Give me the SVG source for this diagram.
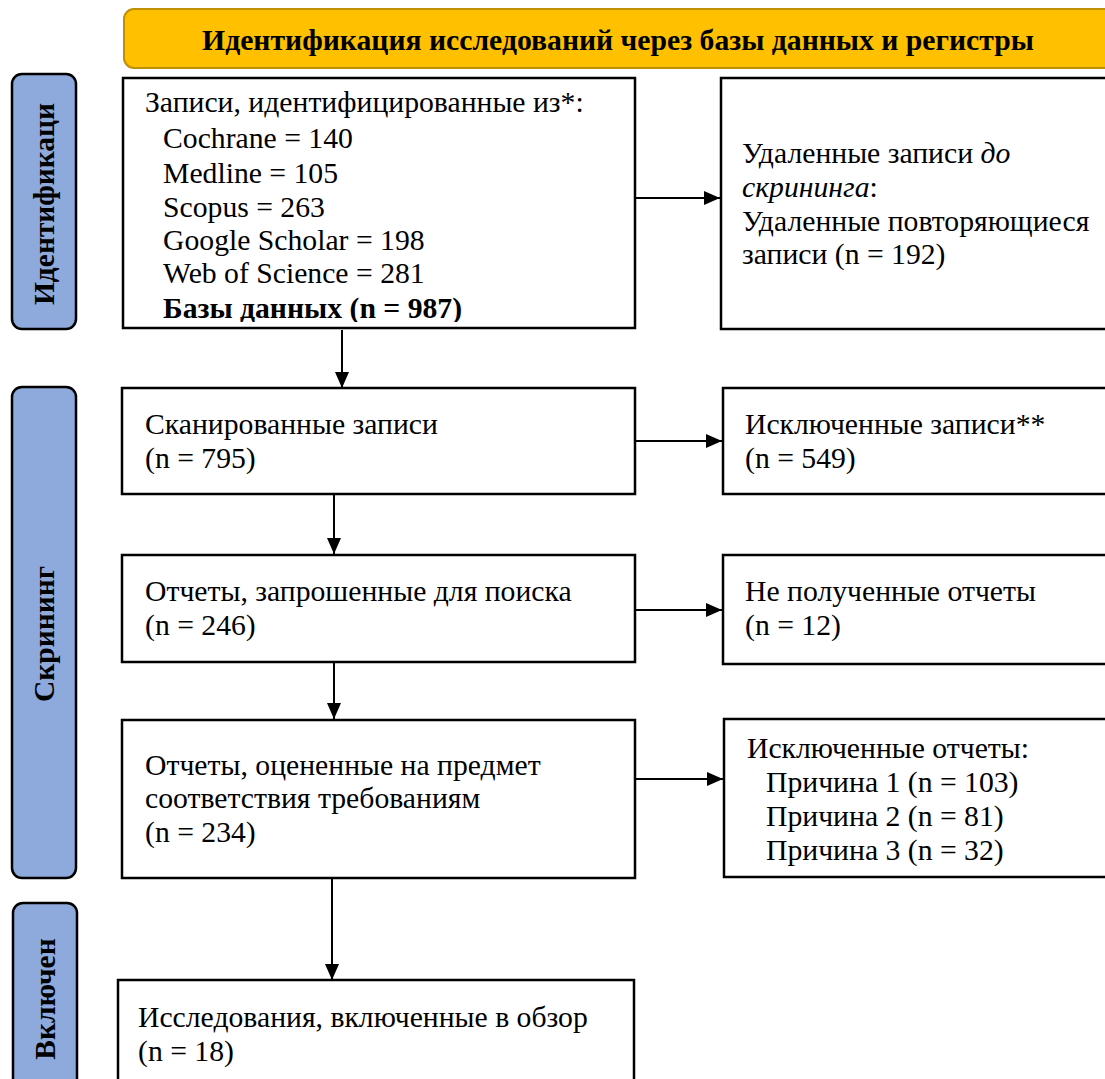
<svg xmlns="http://www.w3.org/2000/svg" width="1105" height="1079" viewBox="0 0 1105 1079">
<defs>
<style>
.box{fill:#fff;stroke:#000;stroke-width:2.5}
.side{fill:#8EA9DB;stroke:#000;stroke-width:2.5}
.t{font-family:"Liberation Serif","Times New Roman",serif;font-size:29.7px;fill:#000}
.b{font-weight:bold}
.sl{font-family:"Liberation Serif","Times New Roman",serif;font-size:29.5px;font-weight:bold;fill:#000}
.c{stroke:#000;stroke-width:2;fill:none}
</style>
<marker id="ah" viewBox="0 0 16 14" refX="16" refY="7" markerWidth="16" markerHeight="14" markerUnits="userSpaceOnUse" orient="auto">
<path d="M0,0 L16,7 L0,14 z" fill="#000"/>
</marker>
<clipPath id="clip1"><rect x="123" y="78" width="512" height="244"/></clipPath>
</defs>
<rect width="1105" height="1079" fill="#fff"/>

<g id="header">
<rect x="124" y="9" width="1000" height="59" rx="10" fill="#FFC000" stroke="#BF9000" stroke-width="2"/>
<text class="t b" x="618" y="50" text-anchor="middle" font-size="26.3">Идентификация исследований через базы данных и регистры</text>
</g>

<g id="side-ident">
<rect class="side" x="12" y="74" width="64" height="255" rx="10"/>
<text class="sl" transform="translate(54,204) rotate(-90)" text-anchor="middle">Идентификаци</text>
</g>
<g id="side-screen">
<rect class="side" x="12" y="387" width="64" height="491" rx="10"/>
<text class="sl" transform="translate(54,634) rotate(-90)" text-anchor="middle">Скрининг</text>
</g>
<g id="side-incl">
<rect class="side" x="13" y="903" width="64" height="190" rx="10"/>
<text class="sl" transform="translate(55,999) rotate(-90)" text-anchor="middle">Включен</text>
</g>

<g id="connectors">
<line class="c" x1="342" y1="330" x2="342" y2="388" marker-end="url(#ah)"/>
<line class="c" x1="334" y1="494" x2="334" y2="554" marker-end="url(#ah)"/>
<line class="c" x1="334" y1="662" x2="334" y2="719" marker-end="url(#ah)"/>
<line class="c" x1="332" y1="878" x2="332" y2="980" marker-end="url(#ah)"/>
<line class="c" x1="635" y1="198" x2="720" y2="198" marker-end="url(#ah)"/>
<line class="c" x1="635" y1="441" x2="722" y2="441" marker-end="url(#ah)"/>
<line class="c" x1="635" y1="610" x2="722" y2="610" marker-end="url(#ah)"/>
<line class="c" x1="635" y1="779" x2="723" y2="779" marker-end="url(#ah)"/>
</g>

<g id="n1">
<rect class="box" x="123" y="78" width="512" height="250"/>
<text class="t" x="145" y="112">Записи, идентифицированные из*:</text>
<text class="t" x="163" y="148">Cochrane = 140</text>
<text class="t" x="163" y="183">Medline = 105</text>
<text class="t" x="163" y="217">Scopus = 263</text>
<text class="t" x="163" y="250">Google Scholar = 198</text>
<text class="t" x="163" y="283">Web of Science = 281</text>
<text class="t b" x="163" y="318" clip-path="url(#clip1)">Базы данных (n = 987)</text>
</g>
<g id="n2">
<rect class="box" x="721" y="78" width="400" height="251"/>
<text class="t" x="742" y="163">Удаленные записи <tspan font-style="italic">до</tspan></text>
<text class="t" x="742" y="197"><tspan font-style="italic">скрининга</tspan>:</text>
<text class="t" x="742" y="231">Удаленные повторяющиеся</text>
<text class="t" x="742" y="264">записи (n = 192)</text>
</g>
<g id="n3">
<rect class="box" x="122" y="388" width="513" height="106"/>
<text class="t" x="145" y="434">Сканированные записи</text>
<text class="t" x="145" y="468">(n = 795)</text>
</g>
<g id="n4">
<rect class="box" x="723" y="388" width="400" height="106"/>
<text class="t" x="745" y="434">Исключенные записи**</text>
<text class="t" x="745" y="468">(n = 549)</text>
</g>
<g id="n5">
<rect class="box" x="122" y="555" width="513" height="107"/>
<text class="t" x="145" y="601">Отчеты, запрошенные для поиска</text>
<text class="t" x="145" y="635">(n = 246)</text>
</g>
<g id="n6">
<rect class="box" x="723" y="555" width="400" height="109"/>
<text class="t" x="745" y="601">Не полученные отчеты</text>
<text class="t" x="745" y="635">(n = 12)</text>
</g>
<g id="n7">
<rect class="box" x="122" y="720" width="513" height="158"/>
<text class="t" x="145" y="775">Отчеты, оцененные на предмет</text>
<text class="t" x="145" y="808">соответствия требованиям</text>
<text class="t" x="145" y="842">(n = 234)</text>
</g>
<g id="n8">
<rect class="box" x="724" y="719" width="400" height="158"/>
<text class="t" x="747" y="758">Исключенные отчеты:</text>
<text class="t" x="766" y="792">Причина 1 (n = 103)</text>
<text class="t" x="766" y="826">Причина 2 (n = 81)</text>
<text class="t" x="766" y="860">Причина 3 (n = 32)</text>
</g>
<g id="n9">
<rect class="box" x="118" y="980" width="516" height="110"/>
<text class="t" x="138" y="1027">Исследования, включенные в обзор</text>
<text class="t" x="138" y="1061">(n = 18)</text>
</g>
</svg>
